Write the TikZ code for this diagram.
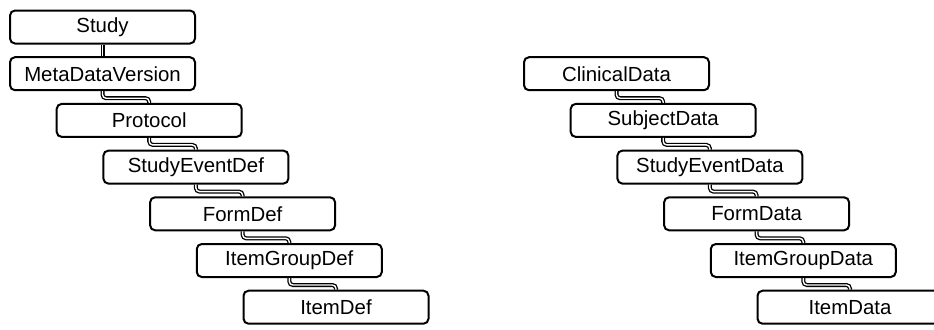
\documentclass[tikz,border=0pt]{standalone}
\usepackage{fontspec}
\setmainfont{Liberation Sans}
\usepackage{tikz}
\usetikzlibrary{arrows,shapes,positioning}

\begin{document}
\begin{tikzpicture}[x=0.5pt,y=0.5pt]
                \tikzstyle{every node}+=[inner sep=0pt]
                \tikzstyle{elem}=[draw, black, rounded corners=2.5pt, line width=1pt, minimum width=92.5pt, minimum height=16.5pt, font=\fontsize{10.2}{12}\selectfont]
                \tikzstyle{link}=[black, double, double distance=0.7pt, line width=0.65pt, rounded corners=1.8pt]
                \useasboundingbox (0,0) rectangle (934,-329);
                \clip (0,0) rectangle (934,-329);
                % metadata side
                \node [elem] (study) at (102.5,-27) {Study};
                \node [elem] (mdv) at (102.5,-73.7) {MetaDataVersion};
                \node [elem] (protocol) at (149.2,-120.4) {Protocol};
                \node [elem] (sed) at (195.9,-167.1) {StudyEventDef};
                \node [elem] (formdef) at (242.6,-213.8) {FormDef};
                \node [elem] (igdef) at (289.3,-260.5) {ItemGroupDef};
                \node [elem] (itemdef) at (336,-307.2) {ItemDef};
                % clinical data side
                \node [elem] (cdata) at (616.5,-73.7) {ClinicalData};
                \node [elem] (sdata) at (663.2,-120.4) {SubjectData};
                \node [elem] (sedata) at (709.9,-167.1) {StudyEventData};
                \node [elem] (fdata) at (756.6,-213.8) {FormData};
                \node [elem] (igdata) at (803.3,-260.5) {ItemGroupData};
                \node [elem] (idata) at (850,-307.2) {ItemData};
                % links
                \draw [link] (study.south) -- (mdv.north);
                \draw [link] (mdv.south) -- ++(0,-7) -| (protocol.north);
                \draw [link] (protocol.south) -- ++(0,-7) -| (sed.north);
                \draw [link] (sed.south) -- ++(0,-7) -| (formdef.north);
                \draw [link] (formdef.south) -- ++(0,-7) -| (igdef.north);
                \draw [link] (igdef.south) -- ++(0,-7) -| (itemdef.north);
                \draw [link] (cdata.south) -- ++(0,-7) -| (sdata.north);
                \draw [link] (sdata.south) -- ++(0,-7) -| (sedata.north);
                \draw [link] (sedata.south) -- ++(0,-7) -| (fdata.north);
                \draw [link] (fdata.south) -- ++(0,-7) -| (igdata.north);
                \draw [link] (igdata.south) -- ++(0,-7) -| (idata.north);
\end{tikzpicture}
\end{document}
